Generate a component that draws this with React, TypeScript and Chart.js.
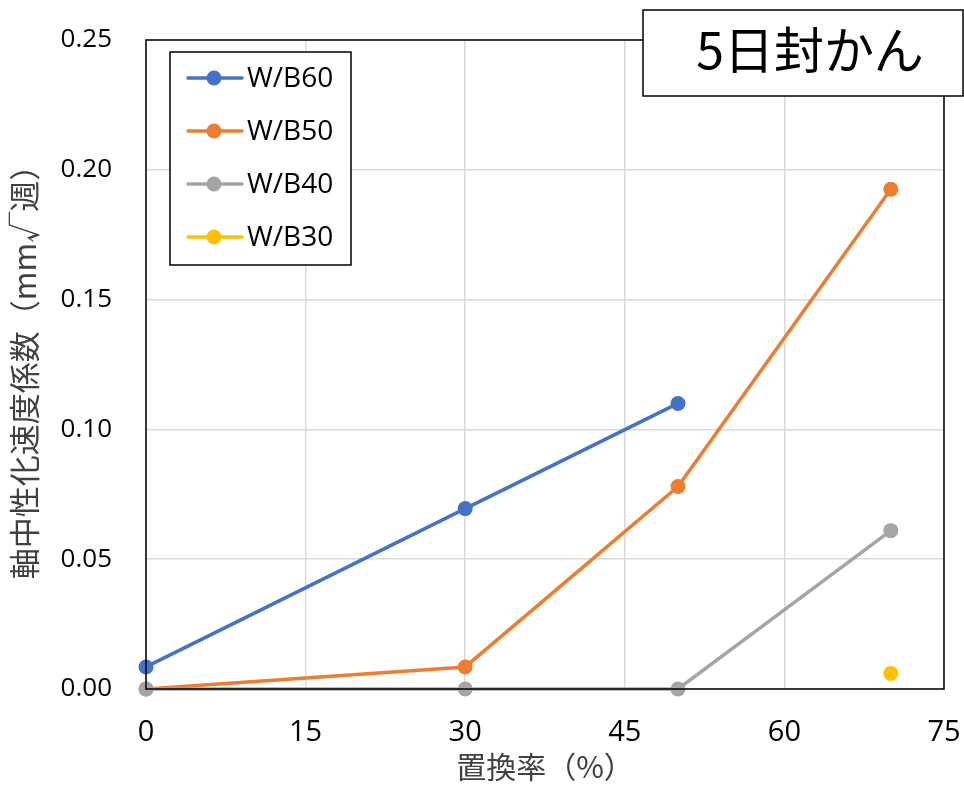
import React, { useEffect, useRef } from "react";
import { Chart, registerables } from "chart.js";

Chart.register(...registerables);

const replacement = [0, 30, 50, 70];
const seriesLabels = ["W/B60", "W/B50", "W/B40", "W/B30"];
const wb60 = [0.0085, 0.0695, 0.11, null];
const wb50 = [0, 0.0085, 0.078, 0.1925];
const wb40 = [0, 0, 0, 0.061];
const wb30 = [null, null, null, 0.006];
const xTicks = [0, 15, 30, 45, 60, 75];
const yTicks = [0, 0.05, 0.1, 0.15, 0.2, 0.25];
const colors = ["#4472C4", "#ED7D31", "#A5A5A5", "#FFC000"];
const chartTitle = "5日封かん";
const xTitle = "置換率（%）";
const yTitle = "軸中性化速度係数（mm√週）";

const FONT = "'Open Sans', 'Noto Sans CJK JP', sans-serif";
const CJK = "'Noto Sans CJK JP', sans-serif";

function toPoints(vals: (number | null)[]) {
  return replacement.map((x, i) => ({ x, y: vals[i] }));
}

const overlayPlugin = {
  id: "overlay",
  afterDatasetsDraw(chart: any) {
    const { ctx, chartArea } = chart;
    ctx.save();
    ctx.strokeStyle = "#000";
    ctx.lineWidth = 1.5;
    ctx.strokeRect(chartArea.left, chartArea.top, chartArea.right - chartArea.left, chartArea.bottom - chartArea.top);
    ctx.restore();
  },
  afterDraw(chart: any) {
    const { ctx } = chart;
    ctx.save();
    const lx = 170, ly = 52, lw = 181, lh = 213;
    ctx.fillStyle = "#fff";
    ctx.fillRect(lx, ly, lw, lh);
    ctx.strokeStyle = "#000";
    ctx.lineWidth = 1.5;
    ctx.strokeRect(lx, ly, lw, lh);
    const rows = [78, 131, 184, 237];
    chart.data.datasets.forEach((ds: any, i: number) => {
      const y = rows[i];
      ctx.strokeStyle = ds.borderColor;
      ctx.lineWidth = 3.5;
      ctx.lineCap = "round";
      ctx.beginPath();
      ctx.moveTo(188, y);
      ctx.lineTo(242, y);
      ctx.stroke();
      ctx.fillStyle = ds.backgroundColor;
      ctx.beginPath();
      ctx.arc(214, y, 7.5, 0, Math.PI * 2);
      ctx.fill();
      ctx.fillStyle = "#000";
      ctx.font = `28px ${FONT}`;
      ctx.textAlign = "left";
      ctx.textBaseline = "middle";
      ctx.fillText(ds.label, 247, y + 1);
    });
    const tx = 643, ty = 10, tw = 320, th = 86;
    ctx.fillStyle = "#fff";
    ctx.fillRect(tx, ty, tw, th);
    ctx.strokeStyle = "#000";
    ctx.lineWidth = 1.5;
    ctx.strokeRect(tx, ty, tw, th);
    ctx.fillStyle = "#000";
    ctx.font = `50px ${CJK}`;
    ctx.textAlign = "center";
    ctx.textBaseline = "middle";
    ctx.fillText(chartTitle, 810, 50);
    ctx.restore();
  },
};

export default function App() {
  const ref = useRef<HTMLCanvasElement | null>(null);
  useEffect(() => {
    document.body.style.margin = "0";
    const canvas = ref.current!;
    const chart = new Chart(canvas, {
      type: "line",
      data: {
        datasets: [wb60, wb50, wb40, wb30].map((vals, i) => ({
          label: seriesLabels[i],
          data: toPoints(vals),
          borderColor: colors[i],
          backgroundColor: colors[i],
          borderWidth: 3.5,
          pointRadius: 7.5,
          pointHoverRadius: 7.5,
          pointBorderWidth: 0,
          spanGaps: false,
          order: 4 - i,
          clip: false as any,
        })),
      },
      options: {
        animation: false,
        responsive: false,
        layout: { padding: { left: 0, right: 20, top: 40, bottom: 0 } },
        plugins: {
          legend: { display: false },
          tooltip: { enabled: false },
          title: { display: false },
        },
        scales: {
          x: {
            type: "linear",
            min: 0,
            max: 75,
            afterBuildTicks: (s: any) => {
              s.ticks = xTicks.map((v) => ({ value: v }));
            },
            afterFit: (s: any) => {
              s.height = 96;
              s.paddingLeft = 0;
              s.paddingRight = 0;
            },
            grid: { color: "#D9D9D9", lineWidth: 1.5, drawTicks: false },
            border: { display: false },
            ticks: {
              padding: 26,
              color: "#000",
              font: { family: FONT, size: 29 },
              maxRotation: 0,
            },
            title: {
              display: true,
              text: xTitle,
              color: "#404040",
              font: { family: CJK, size: 30 },
              padding: { top: -8, bottom: 0 },
            },
          },
          y: {
            type: "linear",
            min: 0,
            max: 0.25,
            afterBuildTicks: (s: any) => {
              s.ticks = yTicks.map((v) => ({ value: v }));
            },
            afterFit: (s: any) => {
              s.width = 146;
              s.paddingTop = 0;
              s.paddingBottom = 0;
            },
            grid: { color: "#D9D9D9", lineWidth: 1.5, drawTicks: false },
            border: { display: false },
            ticks: {
              padding: 34,
              color: "#000",
              font: { family: FONT, size: 26 },
              callback: (v: any) => Number(v).toFixed(2),
            },
            title: {
              display: true,
              text: yTitle,
              color: "#404040",
              font: { family: CJK, size: 31 },
              padding: { top: 6, bottom: 0 },
            },
          },
        },
      },
      plugins: [overlayPlugin],
    });
    return () => chart.destroy();
  }, []);
  return <canvas ref={ref} width={964} height={785} style={{ display: "block" }} />;
}
